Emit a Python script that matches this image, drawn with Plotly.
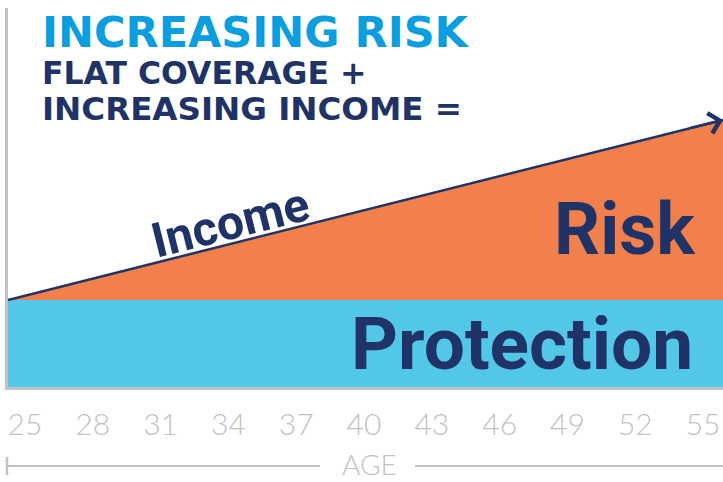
import plotly.graph_objects as go

# ---- data ----
age_span = [24.25, 55.88]          # start / end of the plotted age span
protection = [100, 100]            # flat coverage
income = [100, 307]                # increasing income
tick_ages = [25, 28, 31, 34, 37, 40, 43, 46, 49, 52, 55]
tick_labels = [str(a) for a in tick_ages]

NAVY = "#1F3366"
BLUE_BAND = "#52C7E8"
ORANGE = "#F2804C"
TITLE_BLUE = "#0A9EDF"
GRAY = "#C2C2C2"

fig = go.Figure()
fig.add_trace(go.Scatter(x=age_span, y=protection, mode="lines", line=dict(width=0),
                         fill="tozeroy", fillcolor=BLUE_BAND, hoverinfo="skip", showlegend=False))
fig.add_trace(go.Scatter(x=age_span, y=income, mode="lines", line=dict(width=0),
                         fill="tonexty", fillcolor=ORANGE, hoverinfo="skip", showlegend=False))
fig.add_trace(go.Scatter(x=age_span, y=income, mode="lines", line=dict(color=NAVY, width=2.5),
                         hoverinfo="skip", showlegend=False))

slope = (income[1] - income[0]) / (age_span[1] - age_span[0])
fig.add_annotation(x=age_span[1], y=income[1], ax=age_span[1] - 1.5, ay=income[1] - 1.5 * slope,
                   xref="x", yref="y", axref="x", ayref="y", text="", showarrow=True,
                   arrowhead=4, arrowsize=1.6, arrowwidth=2.5, arrowcolor=NAVY, standoff=0)

def ann(text, x, y, size, color, family, xanchor="left", weight="bold", angle=0, xref="paper", yref="paper"):
    fig.add_annotation(text=text, x=x, y=y, xref=xref, yref=yref, xanchor=xanchor, yanchor="middle",
                       showarrow=False, textangle=angle,
                       font=dict(size=size, color=color, family=family, weight=weight))

# titles (pixel -> paper: x=(px-8)/715, y=(387-py)/379)
ann("INCREASING RISK", (40 - 8) / 715, (387 - 32) / 379, 43, TITLE_BLUE, "DejaVu Sans")
ann("FLAT COVERAGE +", (40 - 8) / 715, (387 - 73) / 379, 31.5, NAVY, "DejaVu Sans")
ann("INCREASING INCOME =", (40 - 8) / 715, (387 - 109) / 379, 32.5, NAVY, "DejaVu Sans")

ann("Income", (230 - 8) / 715, (387 - 222) / 379, 48, NAVY, "Roboto", xanchor="center", angle=-14)
ann("Risk", (625 - 8) / 715, (387 - 229) / 379, 72, NAVY, "Roboto", xanchor="center")
ann("Protection", (522 - 8) / 715, (387 - 344) / 379, 73, NAVY, "Roboto", xanchor="center")

# AGE axis caption with bracket line
AGE_Y = 466
fig.add_shape(type="line", xref="paper", yref="paper", x0=(6 - 8) / 715, x1=(320 - 8) / 715,
              y0=(387 - AGE_Y) / 379, y1=(387 - AGE_Y) / 379, line=dict(color=GRAY, width=2))
fig.add_shape(type="line", xref="paper", yref="paper", x0=(415 - 8) / 715, x1=1,
              y0=(387 - AGE_Y) / 379, y1=(387 - AGE_Y) / 379, line=dict(color=GRAY, width=2))
fig.add_shape(type="line", xref="paper", yref="paper", x0=(7 - 8) / 715, x1=(7 - 8) / 715,
              y0=(387 - AGE_Y + 9) / 379, y1=(387 - AGE_Y - 9) / 379, line=dict(color=GRAY, width=2.5))
ann("AGE", (369 - 8) / 715, (387 - 464) / 379, 28, GRAY, "Lato", xanchor="center", weight=300)

fig.update_xaxes(range=age_span, tickvals=tick_ages, ticktext=tick_labels, showgrid=False,
                 zeroline=False, showline=True, linecolor=GRAY, linewidth=3, ticks="",
                 tickfont=dict(size=30, color=GRAY, family="Lato", weight=300),
                 ticklabelstandoff=9, fixedrange=True)
fig.update_yaxes(range=[0, 435.6], showgrid=False, zeroline=False, showline=True, linecolor=GRAY,
                 linewidth=3, showticklabels=False, ticks="", fixedrange=True)

fig.update_layout(width=723, height=482, margin=dict(l=8, r=0, t=8, b=95),
                  plot_bgcolor="white", paper_bgcolor="white", hovermode=False)

fig.write_html("out.html", config={"displayModeBar": False},
               post_script="document.body.style.margin='0px';document.body.style.overflow='hidden';")
